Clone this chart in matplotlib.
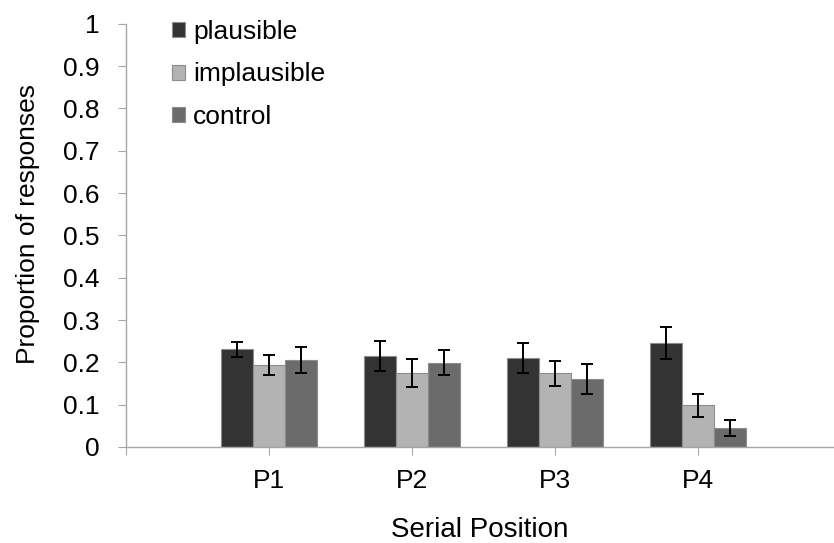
import numpy as np
import matplotlib
matplotlib.use('Agg')
import matplotlib.pyplot as plt

plt.rcParams['font.family'] = ['Liberation Sans', 'DejaVu Sans']

''' data read off the chart '''
positions = ['P1', 'P2', 'P3', 'P4']
plausible = [0.231, 0.215, 0.210, 0.245]
plausible_err = [0.018, 0.035, 0.035, 0.038]
implausible = [0.194, 0.175, 0.174, 0.099]
implausible_err = [0.023, 0.034, 0.030, 0.027]
control = [0.205, 0.199, 0.160, 0.044]
control_err = [0.031, 0.029, 0.035, 0.019]

series = [('plausible', plausible, plausible_err, '#333333'),
          ('implausible', implausible, implausible_err, '#b3b3b3'),
          ('control', control, control_err, '#6b6b6b')]

fig = plt.figure(figsize=(8.34, 5.43), dpi=100)
ax = fig.add_axes([126 / 834, 1 - 447 / 543, 1 - 126 / 834, (447 - 23.7) / 543])

x = np.arange(1, len(positions) + 1)
w = 0.222
for i, (name, vals, errs, col) in enumerate(series):
    ax.bar(x + (i - 1) * w, vals, w, color=col, edgecolor='#8c8c8c', linewidth=0.8,
           label=name, zorder=2)
    ax.errorbar(x + (i - 1) * w, vals, yerr=errs, fmt='none', ecolor='black',
                elinewidth=1.4, capsize=4.3, capthick=1.4, zorder=3)

ax.set_xlim(0, 4.95)
ax.set_ylim(0, 1)
ax.set_xticks([0] + list(x))
ax.set_xticklabels([''] + positions)
ax.set_yticks(np.arange(0, 1.01, 0.1))
ax.set_yticklabels(['0'] + ['%.1f' % v for v in np.arange(0.1, 0.95, 0.1)] + ['1'])

for s in ['top', 'right']:
    ax.spines[s].set_visible(False)
for s in ['left', 'bottom']:
    ax.spines[s].set_color('#a6a6a6')
    ax.spines[s].set_linewidth(1.0)
ax.tick_params(axis='y', length=6, color='#a6a6a6', pad=13, labelsize=19)
ax.tick_params(axis='x', length=6, color='#a6a6a6', pad=10, labelsize=19)

ax.set_ylabel('Proportion of responses', fontsize=19)
ax.yaxis.set_label_coords(-0.1215, 0.527)
ax.set_xlabel('Serial Position', fontsize=20, va='baseline')
ax.xaxis.set_label_coords(0.5, -0.2126)

fig.legend(loc='upper left', bbox_to_anchor=(172 / 834, 1 - 20 / 543), frameon=False,
           fontsize=19, handlelength=0.5, handleheight=0.5, handletextpad=0.3,
           labelspacing=0.7, borderpad=0, borderaxespad=0)

fig.savefig('out.png', dpi=100)
